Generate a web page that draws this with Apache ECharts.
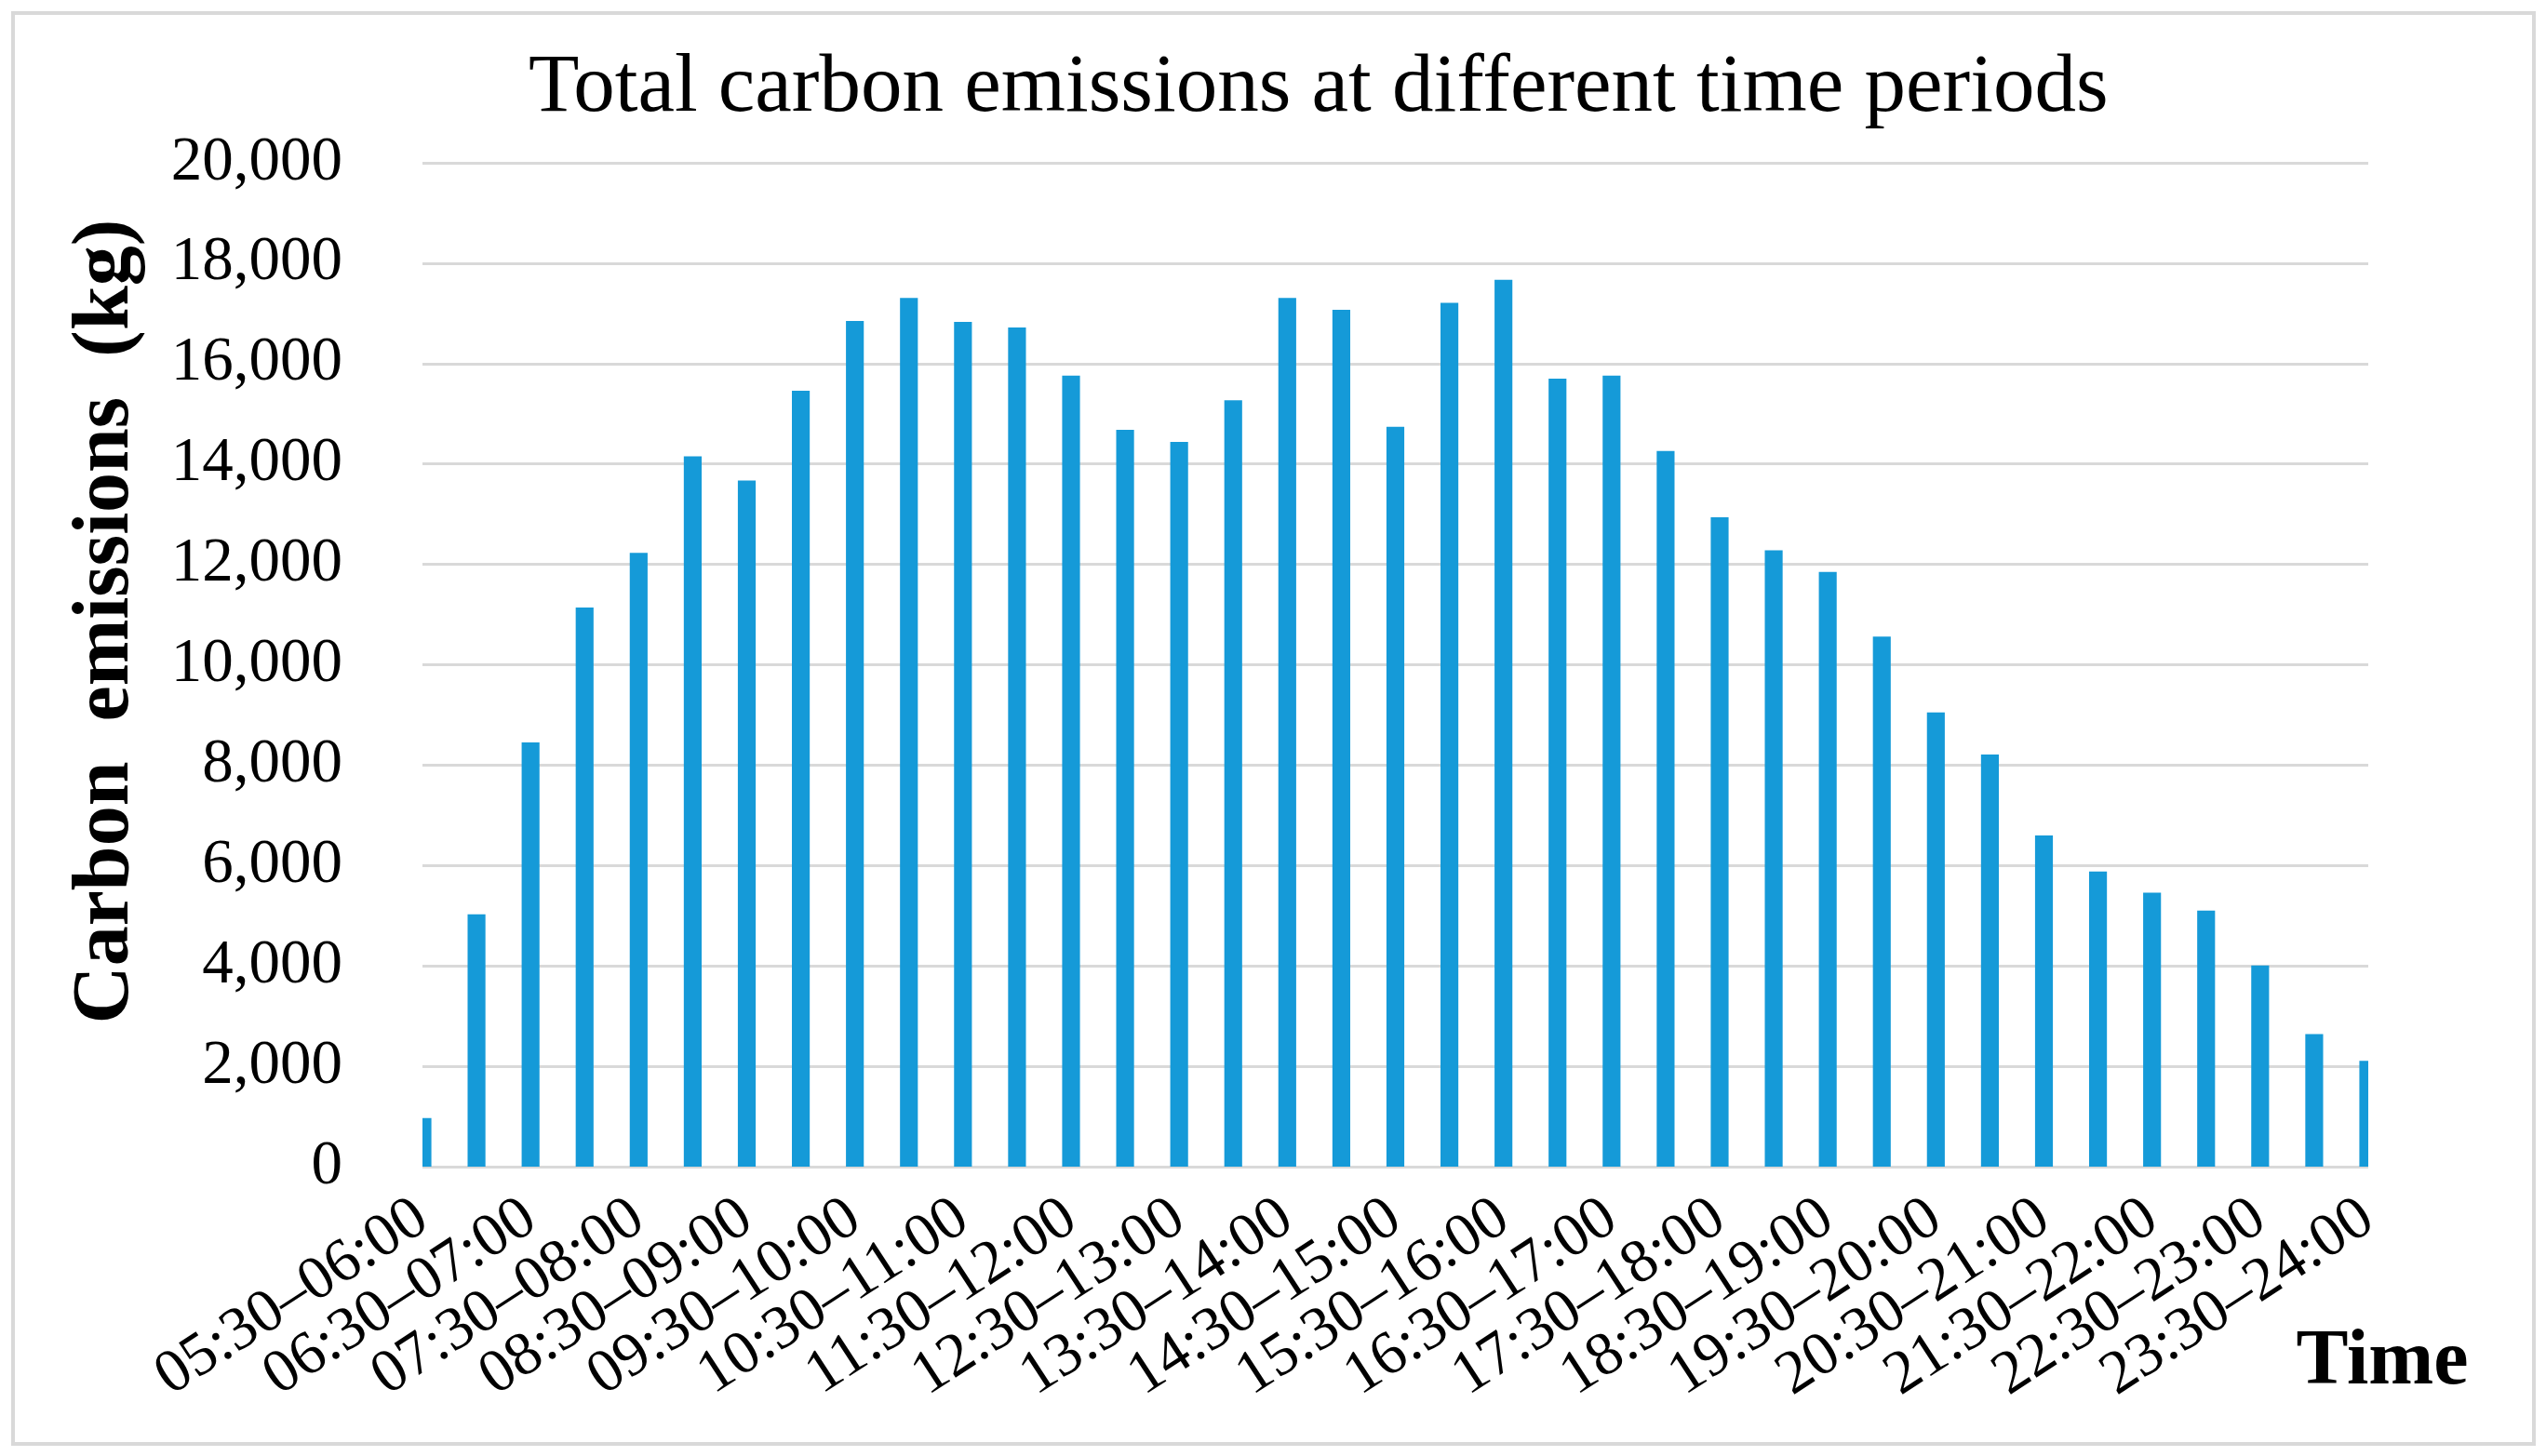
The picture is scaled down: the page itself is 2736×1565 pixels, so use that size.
<!DOCTYPE html>
<html>
<head>
<meta charset="utf-8">
<script src="https://cdn.jsdelivr.net/npm/echarts@6/dist/echarts.min.js"></script>
<style>
html,body{margin:0;padding:0;background:#fff;}
#chart{width:2736px;height:1565px;}
</style>
</head>
<body>
<div id="chart"></div>
<script>
// Half-hour periods from 05:30 to 24:00
const categories = [
  "05:30–06:00","06:00–06:30","06:30–07:00","07:00–07:30","07:30–08:00","08:00–08:30",
  "08:30–09:00","09:00–09:30","09:30–10:00","10:00–10:30","10:30–11:00","11:00–11:30",
  "11:30–12:00","12:00–12:30","12:30–13:00","13:00–13:30","13:30–14:00","14:00–14:30",
  "14:30–15:00","15:00–15:30","15:30–16:00","16:00–16:30","16:30–17:00","17:00–17:30",
  "17:30–18:00","18:00–18:30","18:30–19:00","19:00–19:30","19:30–20:00","20:00–20:30",
  "20:30–21:00","21:00–21:30","21:30–22:00","22:00–22:30","22:30–23:00","23:00–23:30",
  "23:30–24:00"
];
// Total carbon emissions (kg)
const emissions = [
  970, 5030, 8450, 11140, 12230, 14150,
  13670, 15460, 16850, 17310, 16830, 16720,
  15760, 14680, 14440, 15270, 17310, 17070,
  14740, 17210, 17670, 15700, 15760, 14260,
  12940, 12280, 11850, 10560, 9050, 8210,
  6600, 5880, 5460, 5100, 4010, 2640,
  2110
];
const yTicks = { min: 0, max: 20000, interval: 2000 };
const titleText = "Total carbon emissions at different time periods";
const yName = "Carbon  emissions  (kg)";
const xName = "Time";

const chart = echarts.init(document.getElementById('chart'), null, {renderer: 'canvas'});
const serif = "'Liberation Serif', 'DejaVu Serif', serif";
const G = { left: 454, right: 191, top: 175, bottom: 311 };
chart.setOption({
  backgroundColor: '#ffffff',
  animation: false,
  title: {
    text: titleText,
    left: 563,
    top: 46,
    textStyle: { fontFamily: serif, fontSize: 89, fontWeight: 'normal', color: '#000' }
  },
  grid: G,
  xAxis: {
    type: 'category',
    data: categories,
    boundaryGap: false,
    axisTick: { show: false },
    axisLine: { show: true, lineStyle: { color: '#d9d9d9', width: 3 } },
    axisLabel: {
      interval: 0,
      formatter: function (v, i) { return i % 2 === 0 ? v : ''; },
      rotate: 33,
      margin: 50,
      showMinLabel: true,
      showMaxLabel: true,
      hideOverlap: false,
      fontFamily: serif,
      fontSize: 66,
      color: '#000'
    },
    splitLine: { show: false }
  },
  yAxis: {
    type: 'value',
    min: yTicks.min,
    max: yTicks.max,
    interval: yTicks.interval,
    axisLine: { show: false },
    axisTick: { show: false },
    axisLabel: { margin: 86, fontFamily: serif, fontSize: 67, color: '#000' },
    splitLine: { lineStyle: { color: '#d9d9d9', width: 3 } }
  },
  series: [{
    type: 'bar',
    data: emissions,
    barWidth: '33%',
    clip: true,
    itemStyle: { color: '#159ad8' }
  }],
  graphic: [
    {
      // mask so that edge bars are cut at the plot boundary (as in the original)
      type: 'rect', z: 100, silent: true,
      shape: { x: G.left - 40, y: G.top - 5, width: 40, height: 1565 - G.top - G.bottom + 12 },
      style: { fill: '#ffffff' }
    },
    {
      type: 'rect', z: 100, silent: true,
      shape: { x: 2736 - G.right, y: G.top - 5, width: 40, height: 1565 - G.top - G.bottom + 12 },
      style: { fill: '#ffffff' }
    },
    {
      type: 'rect', z: 101,
      shape: { x: 14, y: 14, width: 2709, height: 1538 },
      style: { fill: null, stroke: '#d9d9d9', lineWidth: 4 },
      silent: true
    },
    {
      type: 'text', z: 101,
      x: 115, y: 668,
      rotation: Math.PI / 2,
      style: {
        text: yName,
        fontFamily: serif, fontSize: 86, fontWeight: 'bold',
        fill: '#000', textAlign: 'center', textVerticalAlign: 'middle'
      }
    },
    {
      type: 'text', z: 101,
      x: 2560, y: 1465,
      style: {
        text: xName,
        fontFamily: serif, fontSize: 84, fontWeight: 'bold',
        fill: '#000', textAlign: 'center', textVerticalAlign: 'middle'
      }
    }
  ]
});
</script>
</body>
</html>
